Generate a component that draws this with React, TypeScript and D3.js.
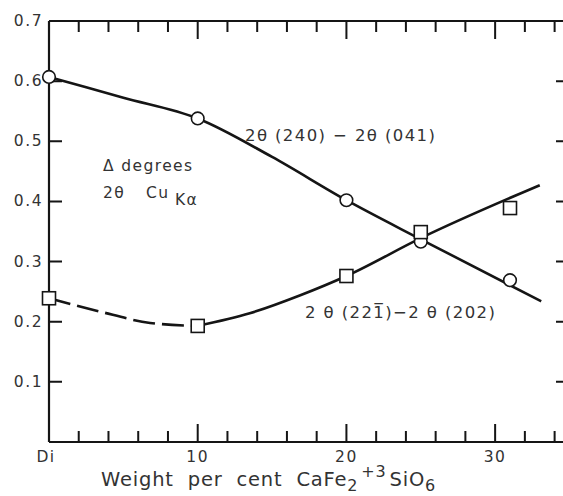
import React from 'react';
import * as d3 from 'd3';

const W = 563;
const H = 496;
const FONT = '"DejaVu Sans", sans-serif';
const INK = '#151515';
const TEXT = '#333';

// measured points (weight per cent CaFe2+3SiO6 -> delta 2theta)
const circleX = [0, 10, 20, 25, 31];
const circleY = [0.607, 0.538, 0.402, 0.333, 0.269];
const squareX = [0, 10, 20, 25, 31];
const squareY = [0.239, 0.193, 0.276, 0.349, 0.389];

// hand-drawn fitted curves
const curve240X = [0, 5, 10, 15, 20, 25, 33.1];
const curve240Y = [0.607, 0.5725, 0.538, 0.474, 0.402, 0.337, 0.234];
const dash221X = [0, 3.4, 6.8, 10];
const dash221Y = [0.239, 0.217, 0.198, 0.193];
const curve221X = [10, 13.5, 16.9, 20, 25, 33];
const curve221Y = [0.193, 0.214, 0.244, 0.276, 0.339, 0.427];

const xTickValues = [2, 4, 6, 8, 10, 12, 14, 16, 18, 20, 22, 24, 26, 28, 30, 32, 34];
const xLabelValues = [0, 10, 20, 30];
const xLabelText = ['Di', '10', '20', '30'];
const yTickValues = [0.1, 0.2, 0.3, 0.4, 0.5, 0.6];
const yLabelValues = [0.1, 0.2, 0.3, 0.4, 0.5, 0.6, 0.7];

const App = () => {
  const x = d3.scaleLinear().domain([0, 34.9]).range([49, 568]);
  const y = d3.scaleLinear().domain([0, 0.7]).range([442, 21]);
  const left = x(0);
  const right = x(34.9);
  const yb = y(0);
  const yt = y(0.7);

  const pts = (xs: number[], ys: number[]) => xs.map((v, i) => [v, ys[i]] as [number, number]);
  const line = d3.line<[number, number]>()
    .x((d) => x(d[0]))
    .y((d) => y(d[1]))
    .curve(d3.curveMonotoneX);

  const tickLen = (v: number) => (v % 10 === 0 ? 18 : 11);

  // all tick marks as one path
  const tp = d3.path();
  xTickValues.forEach((v) => {
    tp.moveTo(x(v), yb);
    tp.lineTo(x(v), yb - tickLen(v));
    tp.moveTo(x(v), yt);
    tp.lineTo(x(v), yt + tickLen(v));
  });
  yTickValues.forEach((v) => {
    tp.moveTo(left, y(v));
    tp.lineTo(left + 13, y(v));
    tp.moveTo(right, y(v));
    tp.lineTo(right - 12, y(v));
  });

  return (
    <svg width={W} height={H} style={{ position: 'absolute', left: 0, top: 0, background: '#fff' }}
      fontFamily={FONT}>
      {/* frame */}
      <path d={`M${left},${yb}H${right}M${left},${yt}H${right}M${left},${yb}V${yt}`}
        fill="none" stroke={INK} strokeWidth={2.2} />
      <path d={tp.toString()} fill="none" stroke={INK} strokeWidth={2} />
      <g fill={TEXT} fontSize={15.5} letterSpacing={1.5}>
        {yLabelValues.map((v) => (
          <text key={v} x={left - 6} y={y(v)} textAnchor="end" dominantBaseline="central">
            {v.toFixed(1)}
          </text>
        ))}
        {xLabelValues.map((v, i) => (
          <text key={v} x={x(v) - (i === 0 ? 3 : 0)} y={yb + 20} textAnchor="middle">
            {xLabelText[i]}
          </text>
        ))}
      </g>
      <text x={101} y={486} fill={TEXT} fontSize={19.5} letterSpacing={0.8} wordSpacing={7}>
        Weight per cent CaFe
        <tspan dy={5} fontSize={16}>2</tspan>
        <tspan dy={-14} dx={3} fontSize={16}>+3</tspan>
        <tspan dy={9} dx={3}>SiO</tspan>
        <tspan dy={5} fontSize={16}>6</tspan>
      </text>

      {/* curves */}
      <g fill="none" stroke={INK} strokeWidth={2.6}>
        <path d={line(pts(curve240X, curve240Y)) || ''} />
        <path d={line(pts(curve221X, curve221Y)) || ''} />
        <path d={line(pts(dash221X, dash221Y)) || ''} strokeDasharray="22 7" />
      </g>

      {/* markers */}
      <g fill="#fff" stroke={INK} strokeWidth={1.6}>
        {circleX.map((v, i) => (
          <circle key={'c' + i} cx={x(v)} cy={y(circleY[i])} r={6.3} />
        ))}
        {squareX.map((v, i) => (
          <rect key={'s' + i} x={x(v) - 6.5} y={y(squareY[i]) - 6.5} width={13} height={13} />
        ))}
      </g>

      {/* annotations */}
      <g fill={TEXT} fontSize={16.5} letterSpacing={1.4}>
        <text x={245} y={141}>2θ (240) − 2θ (041)</text>
        <text x={305} y={318}>2 θ (22{'1\u0305'})−2 θ (202)</text>
        <text x={103} y={171} fontSize={15.5}>Δ degrees</text>
        <text x={103} y={198} fontSize={15.5}>
          2θ
          <tspan x={146}>Cu</tspan>
          <tspan x={175} dy={7}>Kα</tspan>
        </text>
      </g>
    </svg>
  );
};

export default App;
